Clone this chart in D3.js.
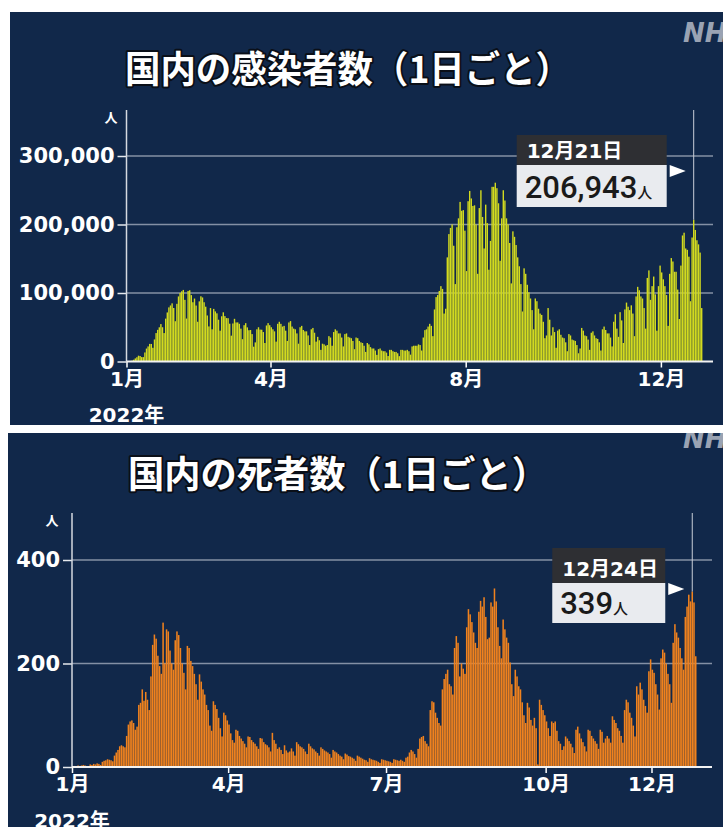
<!DOCTYPE html>
<html>
<head>
<meta charset="utf-8">
<script src="https://cdn.jsdelivr.net/npm/d3@7"></script>
<style>
  body { margin: 0; background: #ffffff; }
  svg { display: block; }
</style>
</head>
<body>
<svg id="chart" width="723" height="827"></svg>
<script>
// daily new cases in thousands, 2022-01-01 .. 2022-12-26 (one row per week, Sat..Fri)
const cases = [
  0.5, 0.6, 0.8, 1.3, 2.6, 4.5, 6.2,
  8.5, 8.0, 6.4, 6.4, 13.2, 18.9, 22.0,
  25.7, 25.6, 20.0, 32.2, 41.5, 46.2, 49.9,
  54.6, 50.0, 41.5, 62.6, 71.6, 79.0, 81.8,
  84.9, 78.1, 58.8, 84.2, 95.0, 100.0, 102.5,
  104.5, 90.0, 62.7, 103.0, 104.0, 96.9, 86.5,
  91.9, 81.7, 58.0, 87.8, 95.2, 93.5, 86.5,
  80.0, 67.2, 51.2, 78.0, 47.0, 76.8, 73.1,
  70.3, 61.0, 45.0, 66.0, 71.8, 66.2, 63.4,
  63.2, 55.2, 37.7, 55.5, 62.3, 57.0, 57.1,
  55.0, 48.0, 32.6, 53.0, 56.0, 49.8, 45.6,
  46.0, 40.0, 21.6, 27.9, 47.0, 50.0, 46.6,
  46.4, 43.0, 27.0, 52.6, 56.0, 53.0, 50.0,
  47.0, 44.0, 29.0, 55.0, 58.0, 55.0, 51.0,
  52.0, 45.0, 30.0, 57.0, 59.0, 51.0, 48.0,
  47.0, 41.0, 26.0, 50.0, 52.0, 46.0, 44.0,
  44.0, 38.0, 24.0, 47.0, 49.0, 42.0, 29.0,
  36.0, 31.0, 17.0, 26.0, 25.0, 23.0, 24.0,
  37.0, 35.0, 23.0, 43.0, 47.0, 45.0, 41.0,
  41.0, 35.0, 22.0, 40.0, 41.0, 36.0, 35.0,
  34.0, 30.0, 18.0, 35.0, 34.0, 30.0, 28.0,
  27.0, 23.0, 14.0, 27.0, 25.0, 21.0, 19.0,
  19.0, 16.0, 9.7, 18.0, 19.0, 16.0, 15.0,
  15.0, 13.0, 8.0, 17.0, 17.0, 15.0, 14.0,
  14.0, 12.0, 7.8, 17.0, 17.0, 16.0, 16.0,
  17.0, 15.0, 10.0, 22.0, 23.0, 23.0, 23.0,
  25.0, 24.0, 16.0, 35.0, 45.8, 47.0, 51.0,
  55.0, 52.0, 37.0, 76.0, 94.0, 97.0, 103.0,
  110.0, 106.0, 70.0, 77.0, 152.0, 186.0, 195.0,
  200.0, 169.0, 113.0, 196.0, 209.0, 233.0, 220.0,
  221.0, 191.0, 132.0, 234.0, 249.0, 238.0, 227.0,
  228.0, 200.0, 128.0, 224.0, 250.0, 211.0, 165.0,
  229.0, 202.0, 134.0, 176.0, 255.0, 255.0, 261.0,
  253.0, 231.0, 147.0, 209.0, 250.0, 235.0, 209.0,
  200.0, 173.0, 114.0, 190.0, 182.0, 170.0, 152.0,
  139.0, 113.0, 73.0, 136.0, 128.0, 112.0, 101.0,
  92.0, 75.0, 47.0, 92.0, 88.0, 77.0, 70.0,
  68.0, 58.0, 34.0, 38.0, 78.0, 61.0, 38.0,
  50.0, 43.0, 20.0, 45.0, 47.0, 39.0, 35.0,
  34.0, 28.0, 15.0, 40.0, 38.0, 32.0, 31.0,
  30.0, 24.0, 12.0, 19.0, 49.0, 45.0, 38.0,
  37.0, 32.0, 17.0, 42.0, 44.0, 38.0, 34.0,
  33.0, 28.0, 16.0, 47.0, 51.0, 46.0, 41.0,
  41.0, 35.0, 22.0, 58.0, 69.0, 48.0, 36.0,
  72.0, 60.0, 27.0, 76.0, 86.0, 80.0, 75.0,
  82.0, 70.0, 37.0, 95.0, 109.0, 104.0, 95.0,
  92.0, 78.0, 48.0, 122.0, 133.0, 90.0, 110.0,
  124.0, 98.0, 45.0, 110.0, 140.0, 130.0, 120.0,
  110.0, 97.0, 52.0, 128.0, 151.0, 146.0, 131.0,
  131.0, 105.0, 62.0, 140.0, 184.0, 188.0, 165.0,
  163.0, 153.0, 88.0, 181.0, 206.943, 192.0, 177.0,
  171.0, 159.0, 78.0
];

// daily deaths, same days
const deaths = [
  1, 2, 1, 3, 2, 3, 4,
  3, 2, 1, 5, 4, 6, 5,
  7, 6, 4, 10, 12, 13, 15,
  14, 13, 11, 22, 28, 33, 40,
  42, 40, 38, 60, 82, 88, 90,
  85, 72, 78, 120, 124, 150, 128,
  145, 130, 110, 175, 236, 256, 248,
  215, 195, 180, 279, 200, 266, 262,
  225, 200, 188, 245, 262, 255, 230,
  200, 182, 150, 234, 230, 205, 195,
  180, 160, 130, 179, 165, 150, 140,
  120, 110, 80, 70, 127, 120, 112,
  95, 75, 59, 105, 100, 90, 82,
  65, 52, 47, 72, 70, 60, 55,
  50, 45, 38, 59, 58, 52, 48,
  45, 40, 35, 56, 55, 48, 44,
  42, 38, 30, 66, 52, 45, 35,
  38, 33, 25, 42, 32, 28, 30,
  36, 30, 22, 48, 44, 40, 38,
  35, 30, 25, 45, 40, 36, 34,
  30, 27, 22, 38, 35, 32, 30,
  28, 25, 18, 33, 30, 28, 25,
  22, 20, 15, 26, 24, 21, 20,
  18, 16, 12, 22, 20, 18, 16,
  14, 13, 10, 17, 15, 14, 13,
  12, 10, 8, 15, 14, 13, 12,
  11, 10, 8, 15, 14, 13, 12,
  14, 12, 10, 18, 20, 28, 33,
  30, 25, 18, 35, 55, 58, 60,
  50, 45, 40, 110, 127, 125, 105,
  95, 85, 80, 150, 170, 180, 188,
  160, 156, 140, 230, 253, 240, 175,
  200, 190, 180, 270, 305, 295, 280,
  260, 240, 230, 300, 321, 310, 328,
  290, 247, 250, 318, 310, 345, 320,
  270, 234, 210, 285, 266, 250, 240,
  202, 160, 137, 188, 175, 156, 150,
  125, 100, 85, 124, 115, 91, 80,
  95, 75, 5, 130, 120, 110, 100,
  88, 75, 60, 88, 85, 88, 70,
  50, 45, 33, 40, 59, 55, 50,
  45, 38, 27, 72, 78, 65, 55,
  48, 40, 30, 72, 70, 60, 55,
  50, 45, 35, 72, 68, 47, 55,
  60, 55, 47, 98, 91, 85, 75,
  70, 60, 47, 110, 130, 125, 105,
  95, 80, 59, 156, 140, 163, 150,
  130, 118, 105, 185, 208, 188, 182,
  160, 140, 111, 210, 227, 221, 200,
  180, 160, 124, 240, 276, 260, 250,
  230, 210, 188, 290, 310, 333, 320,
  339, 318, 214
];

const caseTicks = [0, 100, 200, 300];
const caseTickLabels = ['0', '100,000', '200,000', '300,000'];
const deathTicks = [0, 200, 400];
const deathTickLabels = ['0', '200', '400'];
const caseMonths = [1, 4, 8, 12];
const deathMonths = [1, 4, 7, 10, 12];
const caseTitle = '国内の感染者数（1日ごと）';
const deathTitle = '国内の死者数（1日ごと）';
const yearLabel = '2022年';
const unitLabel = '人';
const caseMark = 354;   // 12月21日
const deathMark = 357;  // 12月24日

const navy = '#11284a';
const numFont = '"DejaVu Sans", "Noto Sans CJK JP", sans-serif';
const start = new Date(2022, 0, 1);
const svg = d3.select('#chart');

function drawPanel(o) {
    const g = svg.append('g');
    const clipId = 'clip' + o.id;
    g.append('clipPath').attr('id', clipId)
        .append('rect')
        .attr('x', o.left).attr('y', o.top)
        .attr('width', 723 - o.left).attr('height', o.bottom - o.top);

    const p = g.append('g').attr('clip-path', `url(#${clipId})`);
    p.append('rect')
        .attr('x', o.left).attr('y', o.top)
        .attr('width', 723 - o.left).attr('height', o.bottom - o.top)
        .attr('fill', navy);

    // logo peeking in at the corner (cut by the frame, as in the broadcast still)
    p.append('text')
        .attr('x', 683).attr('y', o.logoY)
        .attr('font-family', numFont)
        .attr('font-weight', 'bold')
        .attr('font-style', 'italic')
        .attr('font-size', 26)
        .attr('fill', '#9aa3b3')
        .text('NH');

    // title
    p.append('text')
        .attr('x', o.titleX).attr('y', o.titleY)
        .attr('text-anchor', 'middle')
        .attr('font-family', '"Noto Sans CJK JP", sans-serif')
        .attr('font-weight', 'bold')
        .attr('font-size', 37)
        .attr('textLength', o.titleW)
        .attr('lengthAdjust', 'spacingAndGlyphs')
        .attr('fill', '#ffffff')
        .attr('stroke', '#0a0f18')
        .attr('stroke-width', 4)
        .attr('paint-order', 'stroke')
        .attr('stroke-linejoin', 'round')
        .text(o.title);

    const step = o.step;
    const x = d3.scaleTime()
        .domain([start, new Date(2023, 0, 1)])
        .range([o.x0, o.x0 + 365 * step]);
    const y = d3.scaleLinear()
        .domain([0, o.yMax])
        .range([o.y0, o.yTop]);

    // grid
    p.append('g').selectAll('line')
        .data(o.ticks.filter(t => t > 0))
        .join('line')
        .attr('x1', o.x0).attr('x2', o.gridRight)
        .attr('y1', d => y(d)).attr('y2', d => y(d))
        .attr('stroke', '#8490a5')
        .attr('stroke-width', 1.5);

    // bars
    const dayX = i => x(d3.timeDay.offset(start, i));
    p.append('g').selectAll('rect')
        .data(o.values)
        .join('rect')
        .attr('x', (d, i) => dayX(i) + step * 0.06)
        .attr('width', step * 0.88)
        .attr('y', d => y(d))
        .attr('height', d => o.y0 - y(d))
        .attr('fill', o.color);

    // marker line
    const mx = dayX(o.mark) + step / 2;
    p.append('line')
        .attr('x1', mx).attr('x2', mx)
        .attr('y1', o.axisTop).attr('y2', y(o.values[o.mark]))
        .attr('stroke', '#c9ced8')
        .attr('stroke-width', 1);

    // y axis
    const yAxis = d3.axisLeft(y)
        .tickValues(o.ticks)
        .tickSize(9)
        .tickPadding(3)
        .tickFormat((d, i) => o.tickLabels[i]);
    const ya = p.append('g')
        .attr('transform', `translate(${o.x0},0)`)
        .call(yAxis);
    ya.select('.domain').remove();
    ya.selectAll('line').attr('stroke', '#e6e9ee').attr('stroke-width', 1.5);
    ya.selectAll('text')
        .attr('font-family', numFont)
        .attr('font-weight', 'bold')
        .attr('font-size', 21)
        .attr('fill', '#ffffff');
    p.append('line')
        .attr('x1', o.x0).attr('x2', o.x0)
        .attr('y1', o.axisTop).attr('y2', o.y0)
        .attr('stroke', '#d5d9e0').attr('stroke-width', 1.5);
    p.append('text')
        .attr('x', o.unitX).attr('y', o.axisTop + 12)
        .attr('text-anchor', 'middle')
        .attr('font-family', '"Noto Sans CJK JP", sans-serif')
        .attr('font-weight', 'bold')
        .attr('font-size', 13)
        .attr('fill', '#ffffff')
        .text(unitLabel);

    // x axis
    const xAxis = d3.axisBottom(x)
        .tickValues(o.months.map(m => new Date(2022, m - 1, 1)))
        .tickSize(6)
        .tickPadding(4)
        .tickFormat(d => (d.getMonth() + 1) + '月');
    const xa = p.append('g')
        .attr('transform', `translate(0,${o.y0})`)
        .call(xAxis);
    xa.select('.domain').remove();
    xa.selectAll('line').attr('stroke', '#ffffff').attr('stroke-width', 1.5);
    xa.selectAll('text')
        .attr('font-family', numFont)
        .attr('font-weight', 'bold')
        .attr('font-size', 20)
        .attr('fill', '#ffffff');
    p.append('line')
        .attr('x1', o.x0).attr('x2', o.gridRight)
        .attr('y1', o.y0).attr('y2', o.y0)
        .attr('stroke', '#f2f2f2').attr('stroke-width', 2);
    p.append('text')
        .attr('x', o.x0).attr('y', o.yearY)
        .attr('text-anchor', 'middle')
        .attr('font-family', numFont)
        .attr('font-weight', 'bold')
        .attr('font-size', 20)
        .attr('fill', '#ffffff')
        .text(yearLabel);

    // callout
    const d0 = d3.timeDay.offset(start, o.mark);
    const boxR = mx - 27;
    const boxL = boxR - o.boxW;
    p.append('rect')
        .attr('x', boxL).attr('y', o.boxTop)
        .attr('width', o.boxW).attr('height', o.headH)
        .attr('fill', '#2e2f33');
    p.append('text')
        .attr('x', boxL + 10).attr('y', o.boxTop + o.headH - 7)
        .attr('font-family', numFont)
        .attr('font-weight', 'bold')
        .attr('font-size', 20)
        .attr('fill', '#ffffff')
        .text(`${d0.getMonth() + 1}月${d0.getDate()}日`);
    p.append('rect')
        .attr('x', boxL).attr('y', o.boxTop + o.headH)
        .attr('width', o.boxW).attr('height', o.valH)
        .attr('fill', '#e9ebef');
    const vt = p.append('text')
        .attr('x', boxL + 8).attr('y', o.boxTop + o.headH + o.valH - 9)
        .attr('font-family', 'Roboto, "Liberation Sans", Arial, sans-serif')
        .attr('font-weight', 500)
        .attr('font-size', 31)
        .attr('fill', '#1a1a1a');
    vt.append('tspan').text(d3.format(',')(Math.round(o.values[o.mark] * o.unit)));
    vt.append('tspan')
        .attr('font-family', '"Noto Sans CJK JP", sans-serif')
        .attr('font-size', 15)
        .text(unitLabel);
    const ay = o.boxTop + o.headH + 6;
    p.append('path')
        .attr('d', `M${boxR + 3},${ay - 6}L${boxR + 19},${ay}L${boxR + 3},${ay + 6}Z`)
        .attr('fill', '#ffffff');
}

drawPanel({
    id: 'cases', left: 10, top: 12, bottom: 425,
    logoY: 42, title: caseTitle, titleX: 348, titleY: 83, titleW: 446,
    values: cases, unit: 1000, color: '#d2da1f',
    x0: 126.5, step: 1.6, y0: 361.5, yTop: 156, yMax: 300, axisTop: 110,
    gridRight: 713, ticks: caseTicks, tickLabels: caseTickLabels,
    months: caseMonths, yearY: 422, unitX: 111,
    mark: caseMark, boxTop: 135, headH: 30, valH: 42, boxW: 150
});

drawPanel({
    id: 'deaths', left: 8, top: 433, bottom: 827,
    logoY: 448, title: deathTitle, titleX: 338, titleY: 488, titleW: 420,
    values: deaths, unit: 1, color: '#f0821e',
    x0: 72, step: 1.735, y0: 767, yTop: 560, yMax: 400, axisTop: 513,
    gridRight: 712, ticks: deathTicks, tickLabels: deathTickLabels,
    months: deathMonths, yearY: 828, unitX: 52,
    mark: deathMark, boxTop: 548, headH: 35, valH: 40, boxW: 113
});
</script>
</body>
</html>
